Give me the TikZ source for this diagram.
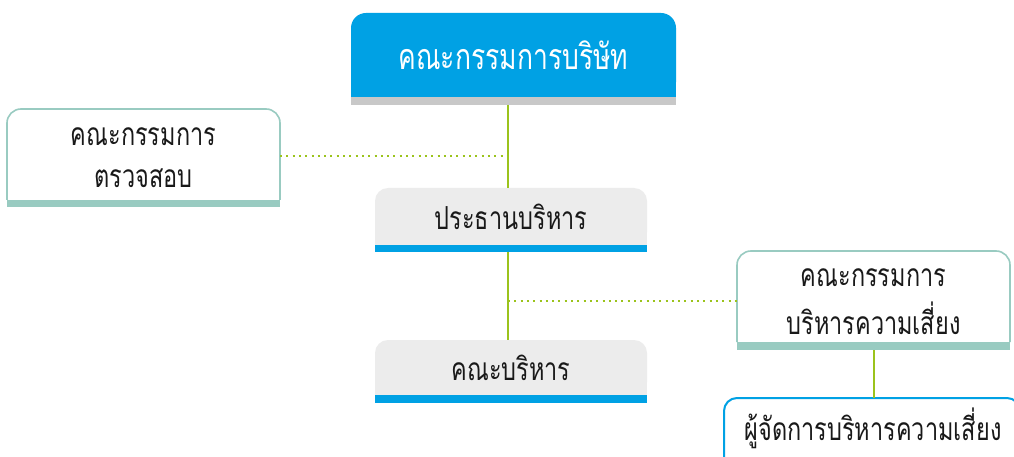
\documentclass[tikz,border=0pt]{standalone}
\usepackage{graphicx}
\usepackage{fontspec}
\newfontfamily\thaifont[Script=Thai]{Loma}
\definecolor{bblue}{HTML}{00A1E4}
\definecolor{bgray}{HTML}{C8C8C8}
\definecolor{teal}{HTML}{99CBC1}
\definecolor{lgray}{HTML}{ECECEC}
\definecolor{lime}{HTML}{9BC31C}
\newcommand{\tall}[1]{\scalebox{1}[1.35]{#1}}
\tikzset{
  frame/.style={inner sep=0pt, outer sep=0pt, draw=none},
  txt/.style={font=\thaifont\fontsize{23.5}{30}\selectfont, text=black!90, align=center, inner sep=0pt},
  link/.style={draw=lime, line width=2pt},
  dotlink/.style={draw=lime, line width=2pt, dash pattern=on 2pt off 4.3pt},
}
\begin{document}
\begin{tikzpicture}[x=1pt,y=-1pt]
\useasboundingbox (0,0) rectangle (1014,457);
\fill[white] (0,0) rectangle (1014,457);
\coordinate (spine) at (508,0);
% frames
\node[frame, minimum width=325pt, minimum height=92pt] (board) at (513.5,59) {};
\node[frame, minimum width=273pt, minimum height=98pt] (audit) at (143.5,158) {};
\node[frame, minimum width=272pt, minimum height=64pt] (ceo) at (511,220) {};
\node[frame, minimum width=272pt, minimum height=63pt] (exec) at (511,371.5) {};
\node[frame, minimum width=273pt, minimum height=99pt] (riskc) at (873.5,300.5) {};
\node[frame, minimum width=296pt, minimum height=72pt] (riskm) at (872,434) {};
% board
\fill[bblue, rounded corners=15pt] (board.north west) rectangle ([yshift=8pt]board.south east);
\fill[bblue] ([yshift=30pt]board.south west) rectangle ([yshift=8pt]board.south east);
\fill[bgray] (board.south west) rectangle ([yshift=8pt]board.south east);
\node[txt, text=white, font=\thaifont\fontsize{26.5}{34}\selectfont] at (513.5,55) {\tall{คณะกรรมการบริษัท}};
% audit
\draw[teal, line width=1.6pt, fill=white, rounded corners=14pt] ([yshift=7pt]audit.south west) -- (audit.north west) -- (audit.north east) -- ([yshift=7pt]audit.south east);
\fill[teal] (audit.south west) rectangle ([yshift=7pt]audit.south east);
\node[txt] at (143.5,137) {\tall{คณะกรรมการ}};
\node[txt] at (143.5,178) {\tall{ตรวจสอบ}};
% ceo
\fill[lgray, rounded corners=13pt] (ceo.north west) rectangle ([yshift=7pt]ceo.south east);
\fill[lgray] ([yshift=25pt]ceo.south west) rectangle ([yshift=7pt]ceo.south east);
\fill[bblue] (ceo.south west) rectangle ([yshift=7pt]ceo.south east);
\node[txt] at (511,217) {\tall{ประธานบริหาร}};
% exec
\fill[lgray, rounded corners=13pt] (exec.north west) rectangle ([yshift=8pt]exec.south east);
\fill[lgray] ([yshift=25pt]exec.south west) rectangle ([yshift=8pt]exec.south east);
\fill[bblue] (exec.south west) rectangle ([yshift=8pt]exec.south east);
\node[txt] at (511,368) {\tall{คณะบริหาร}};
% risk committee
\draw[teal, line width=1.6pt, fill=white, rounded corners=14pt] ([yshift=8pt]riskc.south west) -- (riskc.north west) -- (riskc.north east) -- ([yshift=8pt]riskc.south east);
\fill[teal] (riskc.south west) rectangle ([yshift=8pt]riskc.south east);
\node[txt] at (873.5,278) {\tall{คณะกรรมการ}};
\node[txt] at (873.5,318) {\tall{บริหารความเสี่ยง}};
% risk manager
\draw[bblue, line width=2pt, fill=white, rounded corners=13pt] (riskm.south west) -- (riskm.north west) -- (riskm.north east) -- (riskm.south east);
\node[txt] at (873,428) {\tall{ผู้จัดการบริหารความเสี่ยง}};
% connectors
\draw[link] (board.south -| spine) -- (ceo.north -| spine);
\draw[link] (ceo.south -| spine) -- (exec.north -| spine);
\draw[dotlink] ([yshift=2pt]audit.east) -- ([yshift=2pt]audit.east -| spine);
\draw[dotlink] (riskc.west -| spine) -- (riskc.west);
\draw[link] (riskc.south) -- (riskc.south |- riskm.north);
\end{tikzpicture}
\end{document}
